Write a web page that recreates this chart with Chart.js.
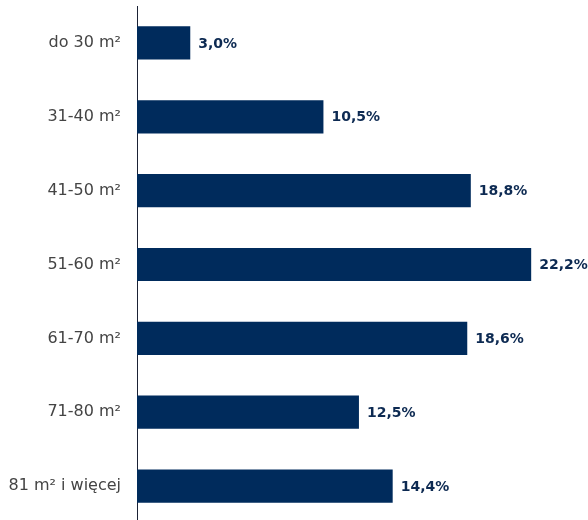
<!DOCTYPE html>
<html><head><meta charset="utf-8">
<script src="https://cdn.jsdelivr.net/npm/chart.js@4/dist/chart.umd.min.js"></script>
<style>html,body{margin:0;padding:0;overflow:hidden;background:#fff}#wrap{width:588px;height:523px;position:relative}</style>
</head><body><div id="wrap"><canvas id="c"></canvas></div>
<script>
const categories = ["do 30 m²", "31-40 m²", "41-50 m²", "51-60 m²", "61-70 m²", "71-80 m²", "81 m² i więcej"];
const values = [3.0, 10.5, 18.8, 22.2, 18.6, 12.5, 14.4];
const valueLabels = ["3,0%", "10,5%", "18,8%", "22,2%", "18,6%", "12,5%", "14,4%"];

const NAVY = "#002b5c";
const labelPlugin = {
  id: "vals",
  afterDatasetsDraw(chart) {
    const ctx = chart.ctx;
    const meta = chart.getDatasetMeta(0);
    ctx.save();
    ctx.font = "bold 14px 'DejaVu Sans', sans-serif";
    ctx.fillStyle = "#0d2a52";
    ctx.textAlign = "left";
    ctx.textBaseline = "middle";
    meta.data.forEach((bar, i) => {
      ctx.fillText(valueLabels[i], bar.x + 8, bar.y + 1);
    });
    ctx.restore();
  }
};

new Chart(document.getElementById("c"), {
  type: "bar",
  data: {
    labels: categories,
    datasets: [{
      data: values,
      backgroundColor: NAVY,
      borderWidth: 0,
      categoryPercentage: 1,
      barPercentage: 0.45
    }]
  },
  options: {
    indexAxis: "y",
    responsive: true,
    maintainAspectRatio: false,
    animation: false,
    layout: { padding: { top: 6, bottom: 0, left: 0, right: 0 } },
    plugins: { legend: { display: false }, tooltip: { enabled: false } },
    scales: {
      x: {
        display: false,
        min: 0,
        max: 25.4,
        grid: { display: false }
      },
      y: {
        grid: { display: false, drawTicks: false },
        border: { display: true, color: "#1b2235", width: 1 },
        ticks: {
          color: "#444444",
          font: { size: 16, family: "'DejaVu Sans', sans-serif" },
          padding: 16
        },
        afterFit(scale) { scale.width = 137; scale.paddingTop = 0; scale.paddingBottom = 0; }
      }
    }
  },
  plugins: [labelPlugin]
});
</script>
</body></html>
